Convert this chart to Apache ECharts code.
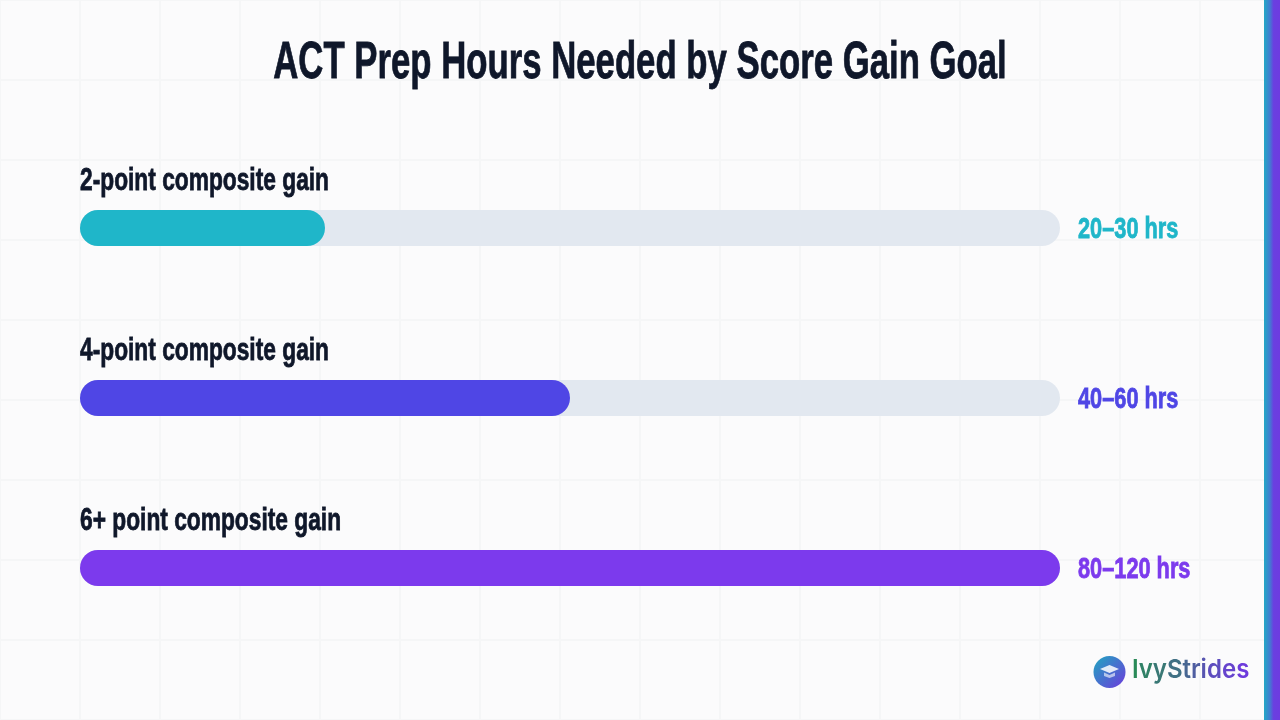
<!DOCTYPE html>
<html>
<head>
<meta charset="utf-8">
<style>
  html, body { margin: 0; padding: 0; width: 1280px; height: 720px; overflow: hidden; }
  body {
    background-color: #fbfbfc;
    background-image:
      linear-gradient(#f5f6f7 2px, transparent 2px),
      linear-gradient(90deg, #f5f6f7 2px, transparent 2px);
    background-size: 80px 80px;
    background-position: -1px -1px;
  }
  #chart { width: 1280px; height: 720px; }
</style>
<script src="https://cdn.jsdelivr.net/npm/echarts@6/dist/echarts.min.js"></script>
</head>
<body>
<div id="chart"></div>
<script>
const titleText = 'ACT Prep Hours Needed by Score Gain Goal'
const categories = ['2-point composite gain', '4-point composite gain', '6+ point composite gain']
const rangeLabels = ['20–30 hrs', '40–60 hrs', '80–120 hrs']
const upperHours = [30, 60, 120]
const trackHours = [120, 120, 120]
const barColors = ['#1fb6c9', '#4f46e5', '#7c3aed']
const logoText = 'IvyStrides'
const displayFont = '"Liberation Sans", sans-serif'
const inkColor = '#0f172a'

const chart = echarts.init(document.getElementById('chart'), null, { renderer: 'canvas' })

// the original face is a condensed display font, none is installed, so squeeze Liberation Sans
function squeezed(text, x, y, size, scaleX, color, align) {
  return {
    type: 'text',
    x: x,
    y: y,
    scaleX: scaleX,
    style: {
      text: text,
      x: 0,
      y: 0,
      align: align || 'left',
      verticalAlign: 'middle',
      fontFamily: displayFont,
      fontWeight: 'bold',
      fontSize: size,
      fill: color,
      stroke: color,
      lineWidth: 0.8,
    },
  }
}

function mix(a, b, t) {
  const ca = echarts.color.parse(a)
  const cb = echarts.color.parse(b)
  return 'rgb(' + [0, 1, 2].map(i => Math.round(ca[i] + (cb[i] - ca[i]) * t)).join(',') + ')'
}

// one rich style per letter, canvas text can't take a gradient fill
const logoRich = {}
logoText.split('').forEach((c, i) => {
  logoRich['l' + i] = {
    fontFamily: 'Inter, sans-serif',
    fontWeight: 600,
    fontSize: 26,
    fill: mix('#2a8a58', '#6d3bdc', i / (logoText.length - 1)),
  }
})
const logoFormatted = logoText.split('').map((c, i) => '{l' + i + '|' + c + '}').join('')

chart.setOption({
  animation: false,
  backgroundColor: 'transparent',
  grid: { left: 80, top: 143, width: 980, height: 510 },
  xAxis: { type: 'value', min: 0, max: 120, show: false },
  yAxis: { type: 'category', inverse: true, data: categories, show: false },
  series: [
    {
      type: 'bar',
      silent: true,
      barWidth: 36,
      barGap: '-100%',
      itemStyle: { color: '#e2e8f0', borderRadius: 18 },
      data: trackHours,
    },
    {
      type: 'bar',
      barWidth: 36,
      barGap: '-100%',
      itemStyle: { borderRadius: 18 },
      data: upperHours.map((v, i) => ({ value: v, itemStyle: { color: barColors[i] } })),
    },
  ],
})

// labels hang off the bars, placed from the axes
const barLeft = chart.convertToPixel({ xAxisIndex: 0 }, 0)
const barRight = chart.convertToPixel({ xAxisIndex: 0 }, 120)
const textLabels = []
categories.forEach((name, i) => {
  const cy = chart.convertToPixel({ yAxisIndex: 0 }, i)
  textLabels.push(squeezed(name, barLeft, cy - 47, 32, 0.711, inkColor))
  textLabels.push(squeezed(rangeLabels[i], barRight + 18, cy + 2, 29, 0.75, barColors[i]))
})

chart.setOption({
  graphic: [
    squeezed(titleText, 640, 64, 52, 0.668, inkColor, 'center'),
    ...textLabels,
    {
      type: 'rect',
      shape: { x: 1264, y: 0, width: 16, height: 720 },
      style: {
        fill: new echarts.graphic.LinearGradient(0, 0, 1, 0, [
          { offset: 0, color: '#22a9c6' },
          { offset: 0.35, color: '#3f7fd0' },
          { offset: 0.6, color: '#6a3fe0' },
          { offset: 1, color: '#6d3be0' },
        ]),
      },
    },
    {
      type: 'circle',
      shape: { cx: 1109.5, cy: 672, r: 16 },
      style: {
        fill: new echarts.graphic.LinearGradient(0, 0, 1, 1, [
          { offset: 0, color: '#1fa7c0' },
          { offset: 1, color: '#6d3bdc' },
        ]),
      },
    },
    {
      type: 'polygon',
      shape: { points: [[1109.5, 665], [1119, 669], [1109.5, 673], [1100, 669]] },
      style: { fill: 'rgba(255,255,255,0.85)' },
    },
    {
      type: 'polygon',
      shape: { points: [[1104, 672.5], [1109.5, 675], [1115, 672.5], [1115, 676], [1109.5, 678], [1104, 676]] },
      style: { fill: 'rgba(255,255,255,0.6)' },
    },
    {
      type: 'text',
      x: 1132,
      y: 670,
      scaleX: 0.925,
      style: {
        text: logoFormatted,
        rich: logoRich,
        x: 0,
        y: 0,
        verticalAlign: 'middle',
      },
    },
  ],
})
</script>
</body>
</html>
